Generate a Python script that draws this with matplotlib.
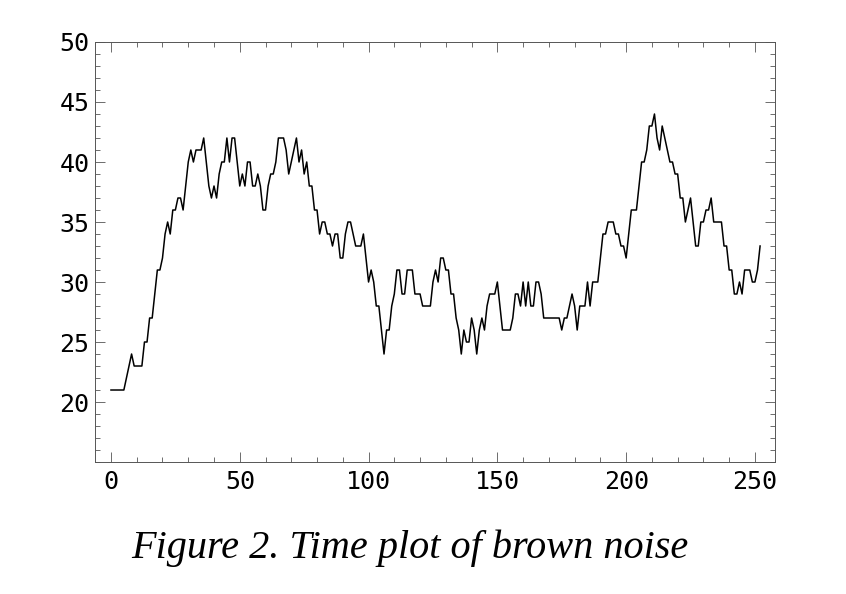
import numpy as np
import matplotlib
matplotlib.use("Agg")
import matplotlib.pyplot as plt
from matplotlib.ticker import MultipleLocator

# brown noise series (one value per time step)
noise = [
    21, 21, 21, 21, 21, 21, 22, 23, 24, 23, 23, 23, 23, 25, 25, 27, 27, 29, 31, 31,
    32, 34, 35, 34, 36, 36, 37, 37, 36, 38, 40, 41, 40, 41, 41, 41, 42, 40, 38, 37,
    38, 37, 39, 40, 40, 42, 40, 42, 42, 40, 38, 39, 38, 40, 40, 38, 38, 39, 38, 36,
    36, 38, 39, 39, 40, 42, 42, 42, 41, 39, 40, 41, 42, 40, 41, 39, 40, 38, 38, 36,
    36, 34, 35, 35, 34, 34, 33, 34, 34, 32, 32, 34, 35, 35, 34, 33, 33, 33, 34, 32,
    30, 31, 30, 28, 28, 26, 24, 26, 26, 28, 29, 31, 31, 29, 29, 31, 31, 31, 29, 29,
    29, 28, 28, 28, 28, 30, 31, 30, 32, 32, 31, 31, 29, 29, 27, 26, 24, 26, 25, 25,
    27, 26, 24, 26, 27, 26, 28, 29, 29, 29, 30, 28, 26, 26, 26, 26, 27, 29, 29, 28,
    30, 28, 30, 28, 28, 30, 30, 29, 27, 27, 27, 27, 27, 27, 27, 26, 27, 27, 28, 29,
    28, 26, 28, 28, 28, 30, 28, 30, 30, 30, 32, 34, 34, 35, 35, 35, 34, 34, 33, 33,
    32, 34, 36, 36, 36, 38, 40, 40, 41, 43, 43, 44, 42, 41, 43, 42, 41, 40, 40, 39,
    39, 37, 37, 35, 36, 37, 35, 33, 33, 35, 35, 36, 36, 37, 35, 35, 35, 35, 33, 33,
    31, 31, 29, 29, 30, 29, 31, 31, 31, 30, 30, 31, 33,
]
steps = np.arange(len(noise))

x_ticks = [0, 50, 100, 150, 200, 250]
y_ticks = [20, 25, 30, 35, 40, 45, 50]

fig = plt.figure(figsize=(8.46, 5.94), dpi=100)
ax = fig.add_axes([0.1123, 0.2222, 0.8038, 0.7071])

ax.plot(steps, noise, color='black', linewidth=1.1)

ax.set_xlim(-6.2, 257.8)
ax.set_ylim(15, 50)
ax.set_xticks(x_ticks)
ax.set_yticks(y_ticks)
ax.xaxis.set_minor_locator(MultipleLocator(10))
ax.yaxis.set_minor_locator(MultipleLocator(1))

tick_font = {'family': 'DejaVu Sans Mono', 'size': 18}
ax.set_xticklabels([str(t) for t in x_ticks], fontdict=tick_font)
ax.set_yticklabels([str(t) for t in y_ticks], fontdict=tick_font)

ax.tick_params(which='both', direction='in', top=True, right=True,
               labeltop=False, labelright=False, color='#555555', width=0.6)
ax.tick_params(which='major', length=7)
ax.tick_params(axis='y', which='major', pad=4)
ax.tick_params(axis='x', which='major', pad=6)
ax.tick_params(which='minor', length=3.5)
for s in ax.spines.values():
    s.set_color('#555555')
    s.set_linewidth(0.7)

fig.text(0.485, 0.061, 'Figure 2. Time plot of brown noise',
         family='Liberation Serif', style='italic', fontsize=29,
         ha='center', va='baseline')

fig.savefig('out.png', dpi=100)
